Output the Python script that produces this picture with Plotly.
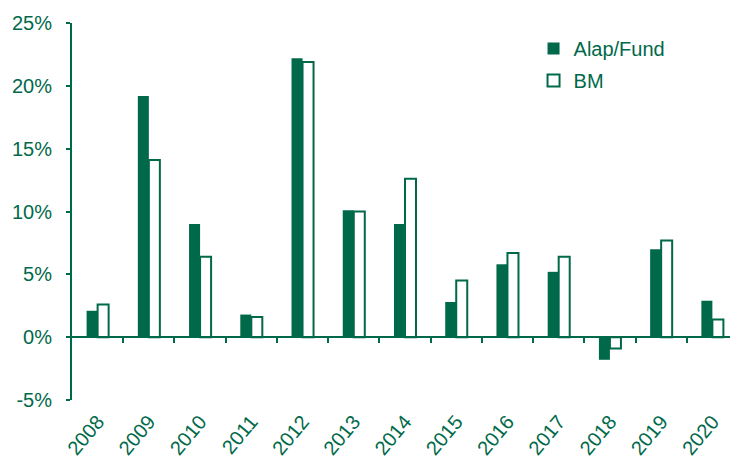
import plotly.graph_objects as go

years = ["2008", "2009", "2010", "2011", "2012", "2013", "2014",
         "2015", "2016", "2017", "2018", "2019", "2020"]
fund = [2.1, 19.2, 9.0, 1.8, 22.2, 10.1, 9.0, 2.8, 5.8, 5.2, -1.8, 7.0, 2.9]
bm = [2.6, 14.1, 6.4, 1.6, 21.9, 10.0, 12.6, 4.5, 6.7, 6.4, -0.9, 7.7, 1.4]
ytick_vals = [-5, 0, 5, 10, 15, 20, 25]
ytick_text = ["-5%", "0%", "5%", "10%", "15%", "20%", "25%"]

GREEN = "#00694A"
FONT = "Liberation Sans, Arial, sans-serif"

fig = go.Figure()
fig.add_trace(go.Bar(x=years, y=fund, name="Alap/Fund", legendgroup="fund",
                     marker=dict(color=GREEN, line=dict(width=0))))
fig.add_trace(go.Bar(x=years, y=bm, name="BM", legendgroup="bm",
                     marker=dict(color="white", line=dict(color=GREEN, width=2))))
# helper axis at y=0 carrying the category boundary ticks
fig.add_trace(go.Scatter(x=[], y=[], xaxis="x2", showlegend=False, hoverinfo="skip"))

n = len(years)
# the page body has an 8px margin, so the figure is sized to fit the window
fig.update_layout(
    width=730, height=453,
    margin=dict(l=64, r=0, t=15, b=61, autoexpand=False),
    paper_bgcolor="white", plot_bgcolor="white",
    font=dict(family=FONT, size=20, color=GREEN),
    barmode="group", bargap=0.57, bargroupgap=0,
    showlegend=True,
    legend=dict(x=0.693, y=0.984, xanchor="left", yanchor="top",
                bgcolor="rgba(0,0,0,0)", font=dict(size=20, color=GREEN),
                itemwidth=30, tracegroupgap=3),
    xaxis=dict(type="category", showline=False, ticks="", showgrid=False,
               tickangle=-50, range=[-0.5, n - 0.5], zeroline=False,
               ticklabelstandoff=5,
               automargin=False, tickfont=dict(size=20, color=GREEN)),
    xaxis2=dict(overlaying="x", anchor="free", position=5 / 30,
                range=[-0.5, n - 0.5], showline=True, linecolor=GREEN,
                linewidth=2, ticks="outside", ticklen=5, tickwidth=2,
                tickcolor=GREEN, tickvals=[i + 0.5 for i in range(n - 1)],
                showticklabels=False, showgrid=False, zeroline=False,
                automargin=False),
    yaxis=dict(range=[-5, 25], tickvals=ytick_vals, ticktext=ytick_text,
               showline=True, linecolor=GREEN, linewidth=2,
               ticks="outside", ticklen=4, tickwidth=2, tickcolor=GREEN,
               showgrid=False, zeroline=False, ticklabelstandoff=10,
               automargin=False, tickfont=dict(size=20, color=GREEN)),
)

fig.write_html("out.html")
